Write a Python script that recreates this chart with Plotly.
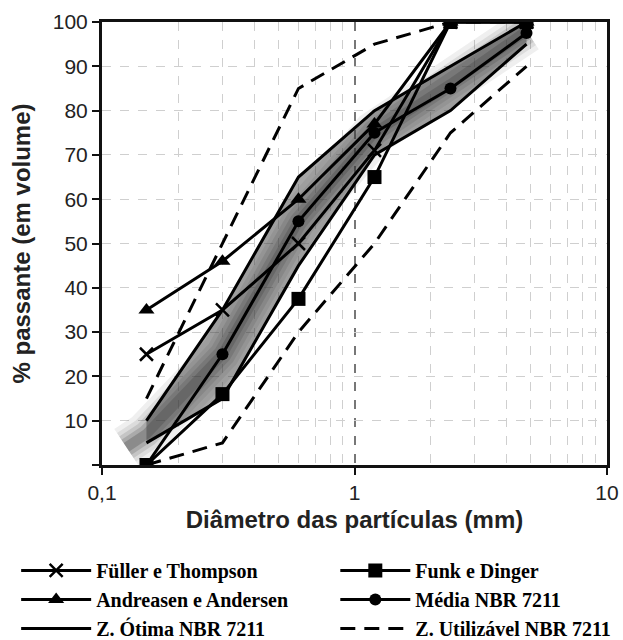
import plotly.graph_objects as go

peneira = [0.15, 0.3, 0.6, 1.2, 2.4, 4.8]
fuller = [25, 35, 50, 71, 100, 100]
funk = [0, 16, 37.5, 65, 100, 100]
andreasen = [35, 46, 60, 77, 100, 100]
media = [0, 25, 55, 75, 85, 97.5]
otima_sup = [10, 35, 65, 80, 90, 100]
otima_inf = [5, 15, 45, 70, 80, 95]
util_sup = [15, 50, 85, 95, 100, 100]
util_inf = [0, 5, 30, 50, 75, 90]
sombra_x = [0.125, 0.15, 0.3, 0.6, 1.2, 2.4, 4.8]
sombra_y = [4, 7, 25, 55, 75, 86, 98]

fig = go.Figure()

# blurred shadow of the optimal zone
for w, a in [(44, 0.07), (34, 0.09), (26, 0.12), (18, 0.16), (10, 0.22)]:
    fig.add_trace(go.Scatter(x=sombra_x, y=sombra_y, mode="lines",
                             line=dict(color=f"rgba(30,30,30,{a})", width=w),
                             showlegend=False, hoverinfo="skip"))
fig.add_trace(go.Scatter(x=peneira + peneira[::-1], y=otima_sup + otima_inf[::-1],
                         mode="lines", fill="toself", fillcolor="rgba(60,60,60,0.45)",
                         line=dict(width=0), showlegend=False, hoverinfo="skip"))

dash = "15px,9px"
fig.add_trace(go.Scatter(x=peneira, y=util_sup, mode="lines", name="Z. Utilizável NBR 7211",
                         line=dict(color="black", width=3, dash=dash), legend="legend2",
                         legendrank=3))
fig.add_trace(go.Scatter(x=peneira, y=util_inf, mode="lines", name="Z. Utilizável NBR 7211",
                         line=dict(color="black", width=3, dash=dash), showlegend=False))
fig.add_trace(go.Scatter(x=peneira, y=otima_sup, mode="lines", name="Z. Ótima NBR 7211",
                         line=dict(color="black", width=3), legend="legend", legendrank=3))
fig.add_trace(go.Scatter(x=peneira, y=otima_inf, mode="lines", name="Z. Ótima NBR 7211",
                         line=dict(color="black", width=3), showlegend=False))

fig.add_trace(go.Scatter(x=peneira, y=media, mode="lines+markers", name="Média NBR 7211",
                         line=dict(color="black", width=3),
                         marker=dict(symbol="circle", size=12, color="black"),
                         legend="legend2", legendrank=2))
fig.add_trace(go.Scatter(x=peneira, y=andreasen, mode="lines+markers", name="Andreasen e Andersen",
                         line=dict(color="black", width=3),
                         marker=dict(symbol="triangle-up", size=14, color="black"),
                         legend="legend", legendrank=2))
fig.add_trace(go.Scatter(x=peneira, y=fuller, mode="lines+markers", name="Füller e Thompson",
                         line=dict(color="black", width=3),
                         marker=dict(symbol="x-thin", size=13, color="black",
                                     line=dict(color="black", width=2.5)),
                         legend="legend", legendrank=1))
fig.add_trace(go.Scatter(x=peneira, y=funk, mode="lines+markers", name="Funk e Dinger",
                         line=dict(color="black", width=3),
                         marker=dict(symbol="square", size=14, color="black"),
                         legend="legend2", legendrank=1))

minor_vals = [v * m for m in (0.1, 1) for v in range(2, 10)]
tickfont = dict(family="Liberation Sans, Arial, sans-serif", size=21, color="#222")
titlefont = dict(family="Liberation Sans, Arial, sans-serif", size=24, color="#222")
legfont = dict(family="Liberation Serif, Times New Roman, serif", size=20,
               color="black", weight="bold")

fig.update_layout(
    width=623, height=640,
    margin=dict(l=102, r=16, t=22, b=175, autoexpand=False),
    plot_bgcolor="white", paper_bgcolor="white",
    xaxis=dict(type="log", range=[-1, 1], tickvals=[0.1, 1, 10], ticktext=["0,1", "1", "10"],
               ticks="outside", ticklen=7, tickwidth=2, tickcolor="#111",
               showline=True, linewidth=3, linecolor="#111", mirror=True,
               showgrid=True, gridcolor="#777", griddash="dash", gridwidth=1.5,
               minor=dict(tickvals=minor_vals, showgrid=True, gridcolor="#cfcfcf",
                          griddash="dash", gridwidth=1, ticks=""),
               tickfont=tickfont,
               title=dict(text="<b>Diâmetro das partículas (mm)</b>", font=titlefont, standoff=8),
               zeroline=False),
    yaxis=dict(range=[0, 100], tickvals=list(range(0, 101, 10)),
               ticktext=[""] + [str(v) for v in range(10, 101, 10)],
               ticks="outside", ticklen=7, tickwidth=2, tickcolor="#111",
               showline=True, linewidth=3, linecolor="#111", mirror=True,
               showgrid=True, gridcolor="#cfcfcf", griddash="dash", gridwidth=1,
               tickfont=tickfont,
               title=dict(text="<b>% passante (em volume)</b>", font=titlefont, standoff=16),
               zeroline=False),
    legend=dict(orientation="v", x=-0.17, xanchor="left", y=-0.194, yanchor="top",
                font=legfont, itemwidth=70, traceorder="normal", bgcolor="rgba(0,0,0,0)"),
    legend2=dict(orientation="v", x=0.462, xanchor="left", y=-0.194, yanchor="top",
                 font=legfont, itemwidth=70, traceorder="normal", bgcolor="rgba(0,0,0,0)"),
    showlegend=True,
)

fig.write_html("out.html")
